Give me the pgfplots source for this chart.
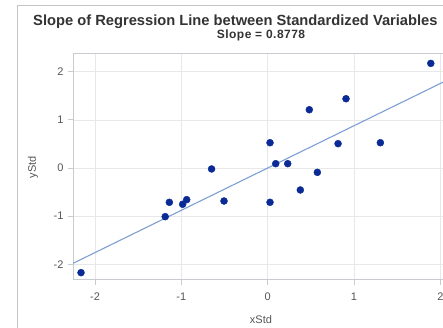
\documentclass[border=0pt]{standalone}
\usepackage{pgfplots}
\pgfplotsset{compat=1.18}
\usetikzlibrary{calc}
\usepackage{fontspec}
\setmainfont{Liberation Sans}
\definecolor{ptblue}{HTML}{0A2A96}
\definecolor{lineblue}{HTML}{7E9ED6}
\definecolor{frame}{HTML}{C8CCD0}
\definecolor{outerframe}{HTML}{C4C4C4}
\definecolor{gridc}{HTML}{E8E8E8}
\definecolor{ticklab}{HTML}{555555}
\begin{document}
\begin{tikzpicture}[x=1pt,y=1pt]
\begin{axis}[
  width=376pt, height=226pt, scale only axis,
  xmin=-2.255, xmax=2.1, ymin=-2.325, ymax=2.367,
  xtick={-2,-1,0,1,2}, ytick={-2,-1,0,1,2},
  grid=major, major grid style={gridc, line width=0.6pt},
  axis line style={frame, line width=1pt},
  tick style={frame, line width=0.8pt},
  tick align=outside, major tick length=5pt,
  xtick pos=bottom, ytick pos=left,
  tick label style={font=\fontsize{11}{12}\selectfont, text=ticklab},
  /pgf/number format/assume math mode=true,
  xticklabel style={yshift=-4pt},
  yticklabel style={xshift=-1pt},
  xlabel={xStd}, ylabel={yStd},
  label style={font=\fontsize{11}{12}\selectfont, text=ticklab},
  xlabel style={at={(axis description cs:0.5,0)}, anchor=center, yshift=-40pt},
  ylabel style={at={(axis description cs:0,0.5)}, anchor=center, yshift=40pt},
  clip=true,
]
\addplot[lineblue, line width=1.1pt] coordinates {(-2.255,-1.9794) (2.1,1.8434)};
\addplot[only marks, mark=*, mark size=3.5pt, mark options={fill=ptblue, draw=ptblue}] coordinates {
(-2.162,-2.172) (-1.187,-1.010) (-1.139,-0.712) (-0.985,-0.753) (-0.938,-0.657)
(-0.650,-0.020) (-0.506,-0.685) (0.027,-0.712) (0.027,0.525) (0.093,0.090)
(0.232,0.090) (0.378,-0.456) (0.575,-0.090) (0.482,1.210) (0.907,1.438)
(0.815,0.505) (1.305,0.525) (1.889,2.172)
};
\coordinate (O) at (rel axis cs:0,0);
\end{axis}
\coordinate (P) at ($(O)+(-73,-48)$);
\draw[outerframe, line width=0.8pt] ($(P)+(17,-10)$) -- ($(P)+(17,323)$) -- ($(P)+(470,323)$);
\node[font=\bfseries\fontsize{14.7}{16}\selectfont, text=black!80, anchor=base west, inner sep=0pt] at ($(P)+(33,302)$) {Slope of Regression Line between Standardized Variables};
\node[font=\bfseries\fontsize{12}{13}\selectfont\addfontfeature{LetterSpace=4}, text=black!80, anchor=base] at ($(P)+(261,289)$) {Slope = 0.8778};
\pgfresetboundingbox
\useasboundingbox (P) rectangle ($(P)+(443,328)$);
\end{tikzpicture}
\end{document}
